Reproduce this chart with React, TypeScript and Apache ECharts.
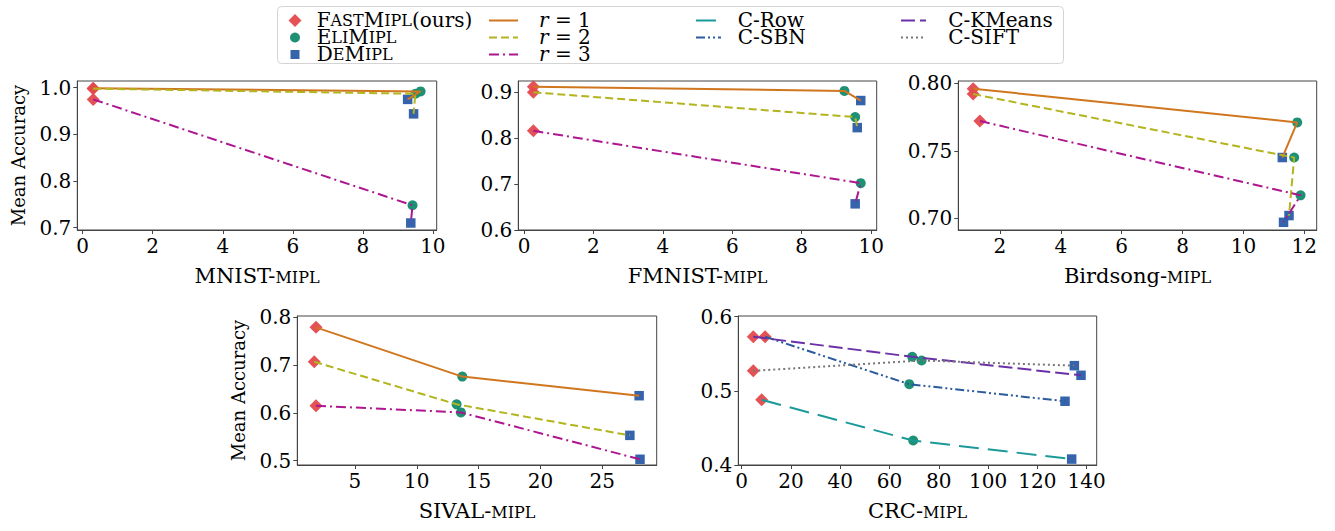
import React, { useEffect, useRef } from "react";
import * as echarts from "echarts";

const SERIF = "DejaVu Serif, Liberation Serif, serif";

const METHODS = ["FastMIPL(ours)", "EliMIPL", "DeMIPL"];

// each list: [FastMIPL, EliMIPL, DeMIPL] as [training time, mean accuracy]
const mnistR1 = [[0.3, 0.999], [9.65, 0.992], [9.28, 0.975]];
const mnistR2 = [[0.3, 0.998], [9.5, 0.987], [9.45, 0.944]];
const mnistR3 = [[0.3, 0.975], [9.42, 0.748], [9.37, 0.71]];
const fmnistR1 = [[0.27, 0.912], [9.23, 0.903], [9.7, 0.882]];
const fmnistR2 = [[0.27, 0.9], [9.54, 0.846], [9.6, 0.823]];
const fmnistR3 = [[0.27, 0.816], [9.7, 0.702], [9.54, 0.657]];
const birdR1 = [[1.12, 0.796], [11.77, 0.771], [11.28, 0.745]];
const birdR2 = [[1.12, 0.792], [11.67, 0.745], [11.5, 0.702]];
const birdR3 = [[1.34, 0.772], [11.88, 0.717], [11.32, 0.697]];
const sivalR1 = [[1.85, 0.779], [13.68, 0.676], [27.98, 0.636]];
const sivalR2 = [[1.71, 0.707], [13.22, 0.618], [27.23, 0.553]];
const sivalR3 = [[1.85, 0.615], [13.57, 0.601], [28.05, 0.503]];
const crcRow = [[8.1, 0.488], [69.6, 0.433], [133.9, 0.408]];
const crcSbn = [[9.5, 0.573], [68.0, 0.509], [131.2, 0.486]];
const crcKmeans = [[4.7, 0.573], [69.2, 0.546], [137.7, 0.521]];
const crcSift = [[4.7, 0.527], [73.0, 0.541], [135.0, 0.534]];

const xTicks10 = [0, 2, 4, 6, 8, 10];
const xTicksBird = [2, 4, 6, 8, 10, 12];
const xTicksSival = [5, 10, 15, 20, 25];
const xTicksCrc = [0, 20, 40, 60, 80, 100, 120, 140];
const yTicksMnist = [0.7, 0.8, 0.9, 1.0];
const yTicksFmnist = [0.6, 0.7, 0.8, 0.9];
const yTicksBird = [0.7, 0.75, 0.8];
const yTicksSival = [0.5, 0.6, 0.7, 0.8];
const yTicksCrc = [0.4, 0.5, 0.6];

const COL = {
  fast: "#e4494c",
  eli: "#128a6b",
  de: "#2a5ca8",
  r1: "#d0761f",
  r2: "#b3b41e",
  r3: "#ae1590",
  row: "#1c9a9a",
  sbn: "#2b5a9e",
  kmeans: "#6a30a8",
  sift: "#777777",
};

const LINE_STYLE: Record<string, { color: string; type: any }> = {
  "r = 1": { color: COL.r1, type: "solid" },
  "r = 2": { color: COL.r2, type: [8, 4] },
  "r = 3": { color: COL.r3, type: [10, 4, 2, 4] },
  "C-Row": { color: COL.row, type: [20, 9] },
  "C-SBN": { color: COL.sbn, type: [9, 3, 2, 3, 2, 3] },
  "C-KMeans": { color: COL.kmeans, type: [14, 5] },
  "C-SIFT": { color: COL.sift, type: [2, 3] },
};

const MARK: Record<string, { color: string; symbol: string; size: number }> = {
  "FastMIPL(ours)": { color: COL.fast, symbol: "diamond", size: 13 },
  EliMIPL: { color: COL.eli, symbol: "circle", size: 10 },
  DeMIPL: { color: COL.de, symbol: "rect", size: 9.5 },
};

const PANELS = [
  {
    t1: "MNIST-", xMin: -0.154, xMax: 10.11, xTicks: xTicks10,
    yMin: 0.695, yMax: 1.0144, yTicks: yTicksMnist, yDec: 1, yName: true,
    grid: { left: 77.3, top: 81, width: 359.4, height: 149 },
    lines: [["r = 1", mnistR1], ["r = 2", mnistR2], ["r = 3", mnistR3]],
  },
  {
    t1: "FMNIST-", xMin: -0.164, xMax: 10.16, xTicks: xTicks10,
    yMin: 0.6, yMax: 0.9246, yTicks: yTicksFmnist, yDec: 1, yName: false,
    grid: { left: 518.3, top: 81, width: 358.4, height: 149 },
    lines: [["r = 1", fmnistR1], ["r = 2", fmnistR2], ["r = 3", fmnistR3]],
  },
  {
    t1: "Birdsong-", xMin: 0.63, xMax: 12.41, xTicks: xTicksBird,
    yMin: 0.6913, yMax: 0.8017, yTicks: yTicksBird, yDec: 2, yName: false,
    grid: { left: 958.3, top: 81, width: 358.4, height: 149 },
    lines: [["r = 1", birdR1], ["r = 2", birdR2], ["r = 3", birdR3]],
  },
  {
    t1: "SIVAL-", xMin: 0.34, xMax: 29.4, xTicks: xTicksSival,
    yMin: 0.491, yMax: 0.8028, yTicks: yTicksSival, yDec: 1, yName: true,
    grid: { left: 297.3, top: 316, width: 359.4, height: 149 },
    lines: [["r = 1", sivalR1], ["r = 2", sivalR2], ["r = 3", sivalR3]],
  },
  {
    t1: "CRC-", xMin: -1.38, xMax: 144.06, xTicks: xTicksCrc,
    yMin: 0.4, yMax: 0.601, yTicks: yTicksCrc, yDec: 1, yName: false,
    grid: { left: 738.3, top: 316, width: 358.4, height: 149 },
    lines: [["C-Row", crcRow], ["C-SBN", crcSbn], ["C-KMeans", crcKmeans], ["C-SIFT", crcSift]],
  },
];

const FS_TICK = 20;
const FS_XNAME = 21;
const FS_YNAME = 18;
const FS_LEG = 20;
const SC = 0.78;
const FRAME = "#444";

const richFor = (fs: number, pad: number) => ({
  g: { fontFamily: SERIF, fontSize: fs, width: Math.max(0, pad), lineHeight: 18, verticalAlign: "bottom" },
  n: { fontFamily: SERIF, fontSize: fs, color: "#000", lineHeight: 18, verticalAlign: "bottom" },
  s: { fontFamily: SERIF, fontSize: Math.round(fs * SC), color: "#000", lineHeight: 18, verticalAlign: "bottom", padding: [0, 0, 1, 0] },
  i: { fontFamily: SERIF, fontSize: fs, fontStyle: "italic", color: "#000", lineHeight: 18, verticalAlign: "bottom" },
});

const LEG_LABEL: Record<string, string> = {
  "FastMIPL(ours)": "{n|F}{s|AST}{n|M}{s|IPL}{n|(ours)}",
  EliMIPL: "{n|E}{s|LI}{n|M}{s|IPL}",
  DeMIPL: "{n|D}{s|E}{n|M}{s|IPL}",
  "r = 1": "{i|r}{n| = 1}",
  "r = 2": "{i|r}{n| = 2}",
  "r = 3": "{i|r}{n| = 3}",
  "C-Row": "{n|C-Row}",
  "C-SBN": "{n|C-SBN}",
  "C-KMeans": "{n|C-KMeans}",
  "C-SIFT": "{n|C-SIFT}",
};

// legend item placement: [name, iconLeft, rowCenterY, iconW, iconH, textX, isLine]
const LEG_ITEMS: [string, number, number, number, number, number, boolean][] = [
  ["FastMIPL(ours)", 288.5, 18.5, 13, 13, 316.7, false],
  ["EliMIPL", 290, 35.5, 10, 10, 316.7, false],
  ["DeMIPL", 290.5, 52.5, 9, 9, 316.7, false],
  ["r = 1", 488, 18.5, 29, 12, 538, true],
  ["r = 2", 488, 35.5, 29, 12, 538, true],
  ["r = 3", 488, 52.5, 29, 12, 538, true],
  ["C-Row", 695, 18.5, 25, 12, 736.7, true],
  ["C-SBN", 695, 35.5, 25, 12, 736.7, true],
  ["C-KMeans", 900, 18.5, 25, 12, 947.3, true],
  ["C-SIFT", 900, 35.5, 25, 12, 947.3, true],
];

function buildOption() {
  const grid: any[] = [];
  const xAxis: any[] = [];
  const yAxis: any[] = [];
  const series: any[] = [];

  PANELS.forEach((p, g) => {
    grid.push({ ...p.grid, show: true, borderColor: FRAME, borderWidth: 1, backgroundColor: "transparent", containLabel: false });
    xAxis.push({
      type: "value", gridIndex: g, min: p.xMin, max: p.xMax,
      name: `{n|${p.t1}}{s|MIPL}`, nameLocation: "middle", nameGap: 38,
      nameTextStyle: { fontFamily: SERIF, fontSize: FS_XNAME, color: "#000", rich: richFor(FS_XNAME, 0) },
      axisLine: { show: true, onZero: false, lineStyle: { color: FRAME, width: 1 } },
      axisTick: { show: true, length: 4, lineStyle: { color: FRAME }, customValues: p.xTicks },
      axisLabel: { fontFamily: SERIF, fontSize: FS_TICK, color: "#000", margin: 6, customValues: p.xTicks, formatter: (v: number) => String(Math.round(v)) },
      splitLine: { show: false },
    });
    yAxis.push({
      type: "value", gridIndex: g, min: p.yMin, max: p.yMax,
      name: p.yName ? "Mean Accuracy" : "", nameLocation: "middle", nameGap: 50, nameRotate: 90,
      nameTextStyle: { fontFamily: SERIF, fontSize: FS_YNAME, color: "#000" },
      axisLine: { show: true, onZero: false, lineStyle: { color: FRAME, width: 1 } },
      axisTick: { show: true, length: 4, lineStyle: { color: FRAME }, customValues: p.yTicks },
      axisLabel: { fontFamily: SERIF, fontSize: FS_TICK, color: "#000", margin: 6, customValues: p.yTicks, formatter: (v: number) => v.toFixed(p.yDec) },
      splitLine: { show: false },
    });
    (p.lines as any[]).forEach(([name, data]) => {
      const st = LINE_STYLE[name];
      series.push({
        type: "line", name, xAxisIndex: g, yAxisIndex: g, data, symbol: "none",
        color: st.color,
        lineStyle: { color: st.color, width: 2, type: st.type },
        itemStyle: { color: st.color },
        z: 3, silent: true,
      });
    });
    METHODS.forEach((m, i) => {
      const mk = MARK[m];
      series.push({
        type: "scatter", name: m, xAxisIndex: g, yAxisIndex: g,
        data: (p.lines as any[]).map(([, d]) => d[i]),
        symbol: mk.symbol, symbolSize: mk.size,
        color: mk.color,
        itemStyle: { color: mk.color, opacity: 0.95 },
        z: 2, silent: true,
      });
    });
  });

  const legend = LEG_ITEMS.map(([name, left, cy, w, h, tx, isLine]) => {
    const pad = tx - (left + w + 5);
    const leg: any = {
      data: [name], left, top: cy - 9, orient: "horizontal", padding: 0,
      itemWidth: w, itemHeight: h, itemGap: 0, selectedMode: false,
      formatter: () => "{g| }" + LEG_LABEL[name],
      textStyle: { fontFamily: SERIF, fontSize: FS_LEG, color: "#000", rich: richFor(FS_LEG, pad) },
    };
    if (isLine) {
      leg.itemStyle = { opacity: 0 };
      leg.lineStyle = { width: 2 };
    }
    return leg;
  });

  return {
    animation: false,
    backgroundColor: "#ffffff",
    grid, xAxis, yAxis, series, legend,
    graphic: [
      {
        type: "rect", left: 277, top: 6, z: 0,
        shape: { width: 786, height: 57, r: 4 },
        style: { fill: "#ffffff", stroke: "#d4d4d4", lineWidth: 1 },
      },
    ],
  };
}

export default function App() {
  const ref = useRef<HTMLDivElement>(null);
  useEffect(() => {
    if (!ref.current) return;
    const chart = echarts.init(ref.current, undefined, { renderer: "svg" });
    chart.setOption(buildOption() as any);
    return () => chart.dispose();
  }, []);
  return (
    <div
      ref={ref}
      style={{ position: "fixed", left: 0, top: 0, width: 1335, height: 531, background: "#fff" }}
    />
  );
}
